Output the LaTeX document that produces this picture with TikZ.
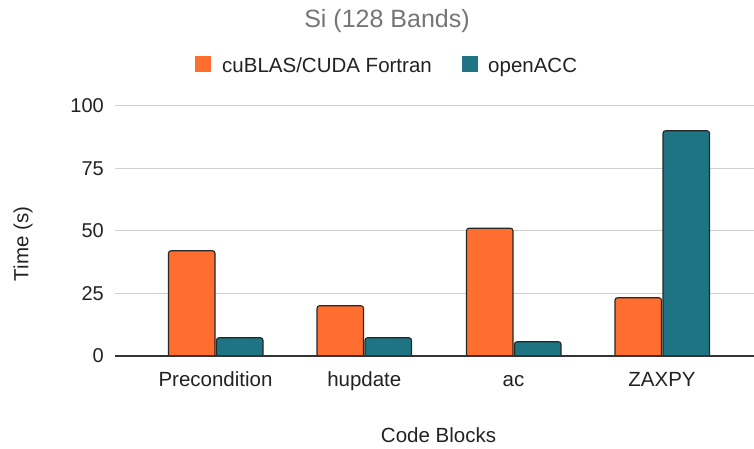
\documentclass[tikz,border=0pt]{standalone}
\usepackage{fontspec}
\setmainfont{Liberation Sans}
\definecolor{cuorange}{HTML}{FF6D2F}
\definecolor{accteal}{HTML}{1E7483}
\definecolor{titlegray}{HTML}{757575}
\definecolor{textdark}{HTML}{222222}
\definecolor{gridgray}{HTML}{D0D0D0}
\definecolor{axisgray}{HTML}{333333}
\newcommand\chartbar[4]{%
  \filldraw[barstyle, fill=#4] (#1,93) -- (#1,{93+2.5*#3}) -- (#2,{93+2.5*#3}) -- (#2,93);}
\begin{document}
\begin{tikzpicture}[x=1pt,y=1pt,
  barstyle/.style={draw=black!85, line width=1.1pt, rounded corners=2.5pt},
  gridline/.style={draw=gridgray, line width=1pt},
  axisline/.style={draw=axisgray, line width=1.3pt},
  ticklab/.style={anchor=east, inner sep=0pt, text=textdark, font=\fontsize{20}{24}\selectfont},
  catlab/.style={anchor=base, inner sep=0pt, text=textdark, font=\fontsize{20.5}{24}\selectfont},
  lab/.style={inner sep=0pt, text=textdark, font=\fontsize{20.5}{24}\selectfont},
  legsq/.style={minimum size=16pt, inner sep=0pt, anchor=south west}]
\useasboundingbox (0,0) rectangle (754,449);
% grid
\foreach \k/\v in {1/25,2/50,3/75,4/100}{
  \draw[gridline] (115,{93+62.5*\k}) -- (754,{93+62.5*\k});
}
% tick labels
\node[ticklab] (t0) at (104,93) {0};
\node[ticklab] (t25) at (104,155.5) {25};
\node[ticklab] (t50) at (104,218) {50};
\node[ticklab] (t75) at (104,280.5) {75};
\node[ticklab] (t100) at (104,343) {100};
% bars
\chartbar{168.5}{215}{42.1}{cuorange}
\chartbar{216.5}{263}{7.3}{accteal}
\chartbar{317}{363.5}{20.1}{cuorange}
\chartbar{365}{411.5}{7.3}{accteal}
\chartbar{466.5}{513}{51.1}{cuorange}
\chartbar{514.5}{561}{5.7}{accteal}
\chartbar{615}{661.5}{23.3}{cuorange}
\chartbar{663}{709.5}{90.1}{accteal}
% axis
\draw[axisline] (115,93) -- (754,93);
% category labels
\node[catlab] (c1) at (215.5,62) {Precondition};
\node[catlab] (c2) at (364.3,62) {hupdate};
\node[catlab] (c3) at (513.5,62) {ac};
\node[catlab] (c4) at (662,62) {ZAXPY};
% axis titles
\node[lab, anchor=base] (xt) at (438.5,6) {Code Blocks};
\node[lab, rotate=90] (yt) at (23,205) {Time (s)};
% title
\node[anchor=base, inner sep=0pt, text=titlegray, font=\fontsize{25}{30}\selectfont] (title) at (387,421) {Si (128 Bands)};
% legend
\node[legsq, fill=cuorange] (lsq1) at (195,376.5) {};
\node[lab, anchor=base west] (l1) at (222,376.5) {cuBLAS/CUDA Fortran};
\node[legsq, fill=accteal] (lsq2) at (461.5,376.5) {};
\node[lab, anchor=base west] (l2) at (488,376.5) {openACC};
\end{tikzpicture}
\end{document}
